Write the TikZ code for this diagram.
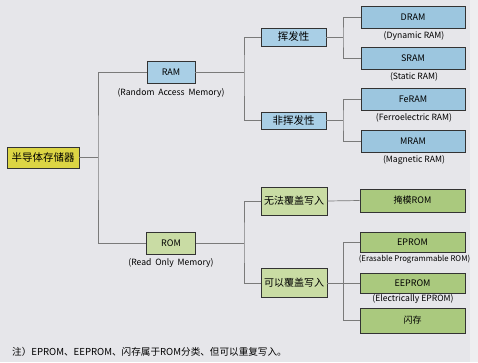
\documentclass[tikz,border=0pt]{standalone}
\usepackage{fontspec}
\setmainfont{Noto Sans CJK SC}
\usepackage{tikz}
\usetikzlibrary{positioning, calc}

\definecolor{paper}{HTML}{E6E6EA}
\definecolor{edgepaper}{HTML}{EEEEF0}
\definecolor{rootfill}{HTML}{DCD544}
\definecolor{ramfill}{HTML}{A9CFE6}
\definecolor{ramleaf}{HTML}{9CC6DF}
\definecolor{romfill}{HTML}{C9DCA4}
\definecolor{romleaf}{HTML}{AAC97E}
\definecolor{linkgray}{HTML}{7A7A7A}

\begin{document}
\begin{tikzpicture}[
      x=1pt, y=-1pt,
      box/.style={draw=black!80, line width=0.8pt, inner sep=0pt, align=center,
                  font=\fontsize{9}{10}\selectfont},
      rootbox/.style={box, fill=rootfill, minimum width=72pt, minimum height=21pt,
                      font=\fontsize{10.5}{12}\selectfont},
      ram/.style={box, fill=ramfill},
      ramleafbox/.style={box, fill=ramleaf, minimum width=104pt, minimum height=22pt},
      rom/.style={box, fill=romfill},
      romleafbox/.style={box, fill=romleaf, minimum width=105pt},
      sub/.style={font=\fontsize{8.6}{10}\selectfont, inner sep=0pt},
      link/.style={draw=linkgray, line width=0.7pt},
    ]
    % page
    \fill[paper] (0,0) rectangle (478,362);
    \fill[edgepaper] (470,0) rectangle (478,362);

    % first level
    \node[rootbox] (root) at (43,157.5) {半导体存储器};
    \node[ram, minimum width=48pt, minimum height=22pt] (ram) at (171,72) {RAM};
    \node[sub] (ramsub) at (171,93) {(Random\ \ Access\ \ Memory)};
    \node[rom, minimum width=49pt, minimum height=22pt] (rom) at (171,243) {ROM};
    \node[sub] (romsub) at (171,263) {(Read\ \ Only\ \ Memory)};

    % second level
    \node[ram, minimum width=65pt, minimum height=18pt,
          font=\fontsize{10.5}{12}\selectfont] (vol) at (293.5,37) {挥发性};
    \node[ram, minimum width=65pt, minimum height=17pt,
          font=\fontsize{10.5}{12}\selectfont] (nvol) at (293.5,120.5) {非挥发性};
    \node[rom, minimum width=66pt, minimum height=28pt,
          font=\fontsize{10}{12}\selectfont] (ro) at (294,201) {无法覆盖写入};
    \node[rom, minimum width=66pt, minimum height=29pt,
          font=\fontsize{10}{12}\selectfont] (rw) at (294,283) {可以覆盖写入};

    % leaves
    \node[ramleafbox] (dram) at (413,17.5) {DRAM};
    \node[sub] (dramsub) at (414,36) {(Dynamic RAM)};
    \node[ramleafbox] (sram) at (413,58.5) {SRAM};
    \node[sub] (sramsub) at (414,77) {(Static RAM)};
    \node[ramleafbox] (feram) at (413,99) {FeRAM};
    \node[sub] (feramsub) at (414,118) {(Ferroelectric RAM)};
    \node[ramleafbox] (mram) at (413,141) {MRAM};
    \node[sub] (mramsub) at (414,160) {(Magnetic RAM)};

    \node[romleafbox, minimum height=23pt] (mask) at (412.5,200.5) {掩模ROM};
    \node[romleafbox, minimum height=20pt] (eprom) at (412.5,242) {EPROM};
    \node[sub, font=\fontsize{7.8}{9}\selectfont] (epromsub) at (414.5,259)
      {(Erasable Programmable ROM)};
    \node[romleafbox, minimum height=20pt] (eeprom) at (412.5,283) {EEPROM};
    \node[sub] (eepromsub) at (413,299) {(Electrically EPROM)};
    \node[romleafbox, minimum height=25pt] (flash) at (412.5,320.5) {闪存};

    % junctions
    \coordinate (jroot) at (98,157.5);
    \coordinate (jram) at (244,72);
    \coordinate (jrom) at (244,243);
    \coordinate (jvol) at (343,37);
    \coordinate (jnvol) at (343,120.5);

    % connectors
    \draw[link] (root.east) -- (jroot);
    \draw[link] (ram.west) -| (jroot) |- (rom.west);
    \draw[link] (ram.east) -- (jram);
    \draw[link] (vol.west) -| (jram) |- (nvol.west);
    \draw[link] (rom.east) -- (jrom);
    \draw[link] (ro.west) -| (jrom) |- (rw.west);
    \draw[link] (vol.east) -- (jvol);
    \draw[link] (dram.west) -| (jvol) |- (sram.west);
    \draw[link] (nvol.east) -- (jnvol);
    \draw[link] (feram.west) -| (jnvol) |- (mram.west);
    \draw[link] (ro.east) -- (mask.west);
    \draw[link] (rw.east) -- (eeprom.west);
    \draw[link] (eprom.west) -| ($(rw.east)!0.5!(eeprom.west)$) |- (flash.west);

    % note
    \node[anchor=west, inner sep=0pt, font=\fontsize{9.6}{11}\selectfont] (note) at (12,352)
      {注）EPROM、EEPROM、闪存属于ROM分类、但可以重复写入。};
\end{tikzpicture}
\end{document}
